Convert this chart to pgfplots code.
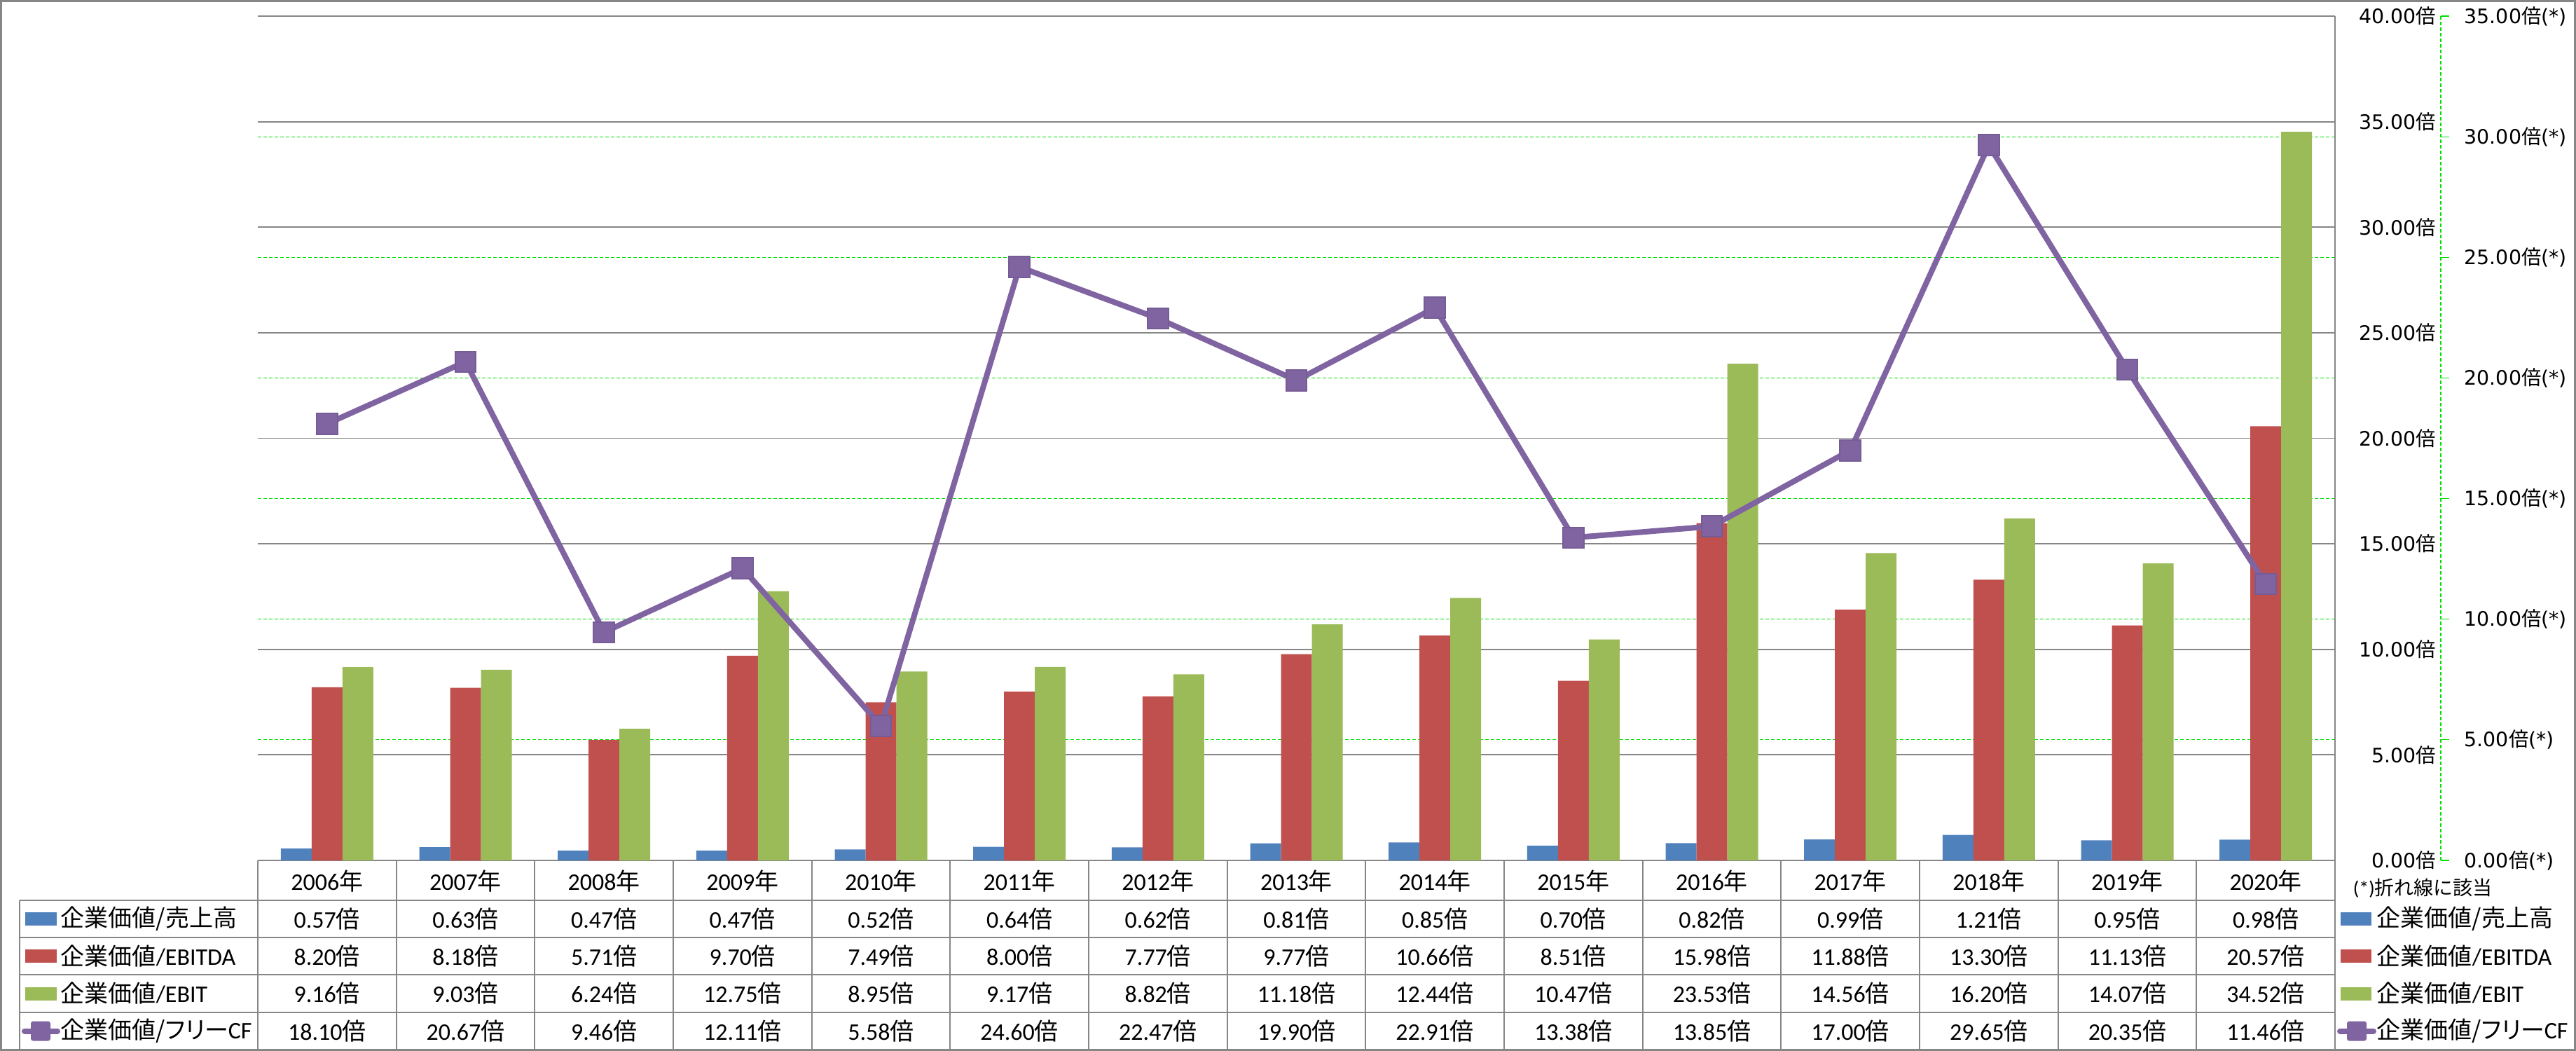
\documentclass[border=0pt]{standalone}
\usepackage{fontspec}
\usepackage{pgfplots}
\usepackage{pgfplotstable}
\pgfplotsset{compat=1.18}
\setmainfont{Carlito}
\newfontfamily\cjk{Noto Sans CJK JP}
\newfontfamily\cjkp{Noto Sans CJK JP}[RawFeature=+palt]
\newfontfamily\tickfont{DejaVu Sans}
\definecolor{cBlue}{HTML}{4F81BD}
\definecolor{cRed}{HTML}{C0504D}
\definecolor{cGreen}{HTML}{9BBB59}
\definecolor{cPurple}{HTML}{8064A2}
\definecolor{cGrid}{HTML}{868686}
\definecolor{cDash}{HTML}{00E000}
\newcommand\bai{{\cjk 倍}}
\newcommand\tl[1]{{\tickfont #1}\bai}
\newcommand\tls[1]{{\tickfont #1}\bai{\tickfont (*)}}

\pgfplotstableread{
x s ebitda ebit fcf
0 0.57 8.20 9.16 18.10
1 0.63 8.18 9.03 20.67
2 0.47 5.71 6.24 9.46
3 0.47 9.70 12.75 12.11
4 0.52 7.49 8.95 5.58
5 0.64 8.00 9.17 24.60
6 0.62 7.77 8.82 22.47
7 0.81 9.77 11.18 19.90
8 0.85 10.66 12.44 22.91
9 0.70 8.51 10.47 13.38
10 0.82 15.98 23.53 13.85
11 0.99 11.88 14.56 17.00
12 1.21 13.30 16.20 29.65
13 0.95 11.13 14.07 20.35
14 0.98 20.57 34.52 11.46
}\data

\begin{document}
\begin{tikzpicture}
\begin{axis}[
  at={(92pt,-307pt)}, anchor=south west,
  scale only axis, width=741.25pt, height=301.25pt,
  xmin=-0.5, xmax=14.5, ymin=0, ymax=40,
  xtick=\empty, ytick={0,5,...,40},
  yticklabels={\tl{0.00},\tl{5.00},\tl{10.00},\tl{15.00},\tl{20.00},\tl{25.00},\tl{30.00},\tl{35.00},\tl{40.00}},
  yticklabel pos=right,
  y tick label style={anchor=east, inner sep=0pt, xshift=36.25pt, font=\fontsize{7.1}{8}\selectfont},
  axis line style={draw=none},
  major tick length=0pt,
  ymajorgrids, major grid style={cGrid, line width=0.45pt},
  extra y ticks={5.7142857,11.428571,17.142857,22.857143,28.571429,34.285714},
  extra y tick labels={},
  extra y tick style={grid=major, major grid style={cDash, line width=0.3pt, dash pattern=on 1.25pt off 0.75pt}},
  ybar=0pt, bar width=11pt,
  clip=false,
]
\addplot[fill=cBlue, draw=none] table[x=x,y=s]{\data};
\addplot[fill=cRed, draw=none] table[x=x,y=ebitda]{\data};
\addplot[fill=cGreen, draw=none] table[x=x,y=ebit]{\data};
\end{axis}
\begin{axis}[
  at={(92pt,-307pt)}, anchor=south west,
  scale only axis, width=741.25pt, height=301.25pt,
  xmin=-0.5, xmax=14.5, ymin=0, ymax=35,
  xtick=\empty, ytick={0,5,...,35},
  yticklabels={\tls{0.00},\tls{5.00},\tls{10.00},\tls{15.00},\tls{20.00},\tls{25.00},\tls{30.00},\tls{35.00}},
  yticklabel pos=right,
  y tick label style={anchor=west, inner sep=0pt, xshift=46pt, font=\fontsize{7.1}{8}\selectfont},
  axis line style={draw=none},
  major tick length=0pt,
  clip=false,
]
\addplot[cPurple, line width=2pt, mark=square*, mark size=3.7pt,
  mark options={fill=cPurple, draw=cPurple!92!black, line width=0.5pt, rounded corners=0.8pt}]
  table[x=x,y=fcf]{\data};
\end{axis}

\begin{scope}[x=0.25pt, y=-0.25pt]
  % outer frame
  \draw[cGrid, line width=0.75pt] (1.5,1.5) rectangle (3675.5,1498.5);
  % right border of plot/table
  \draw[cGrid, line width=0.5pt] (3333,23) -- (3333,1498);
  % secondary axis line and ticks
  \draw[cDash, line width=0.3pt, dash pattern=on 1.25pt off 0.75pt] (3484,23) -- (3484,1228);
  \foreach \k in {0,...,7} {
    \draw[cDash, line width=0.3pt] (3484,1228-\k*172.143) -- ++(12,0);
  }
  % table lines
  \foreach \yy in {1285,1338,1391,1445,1498} {
    \draw[cGrid, line width=0.5pt] (28,\yy) -- (3333,\yy);
  }
  \draw[cGrid, line width=0.5pt] (28,1285) -- (28,1498);
  \foreach \k in {0,...,14} {
    \draw[cGrid, line width=0.5pt] (368+\k*197.667,1228) -- (368+\k*197.667,1498);
  }
  % years
  \foreach \i/\yr in {0/2006,1/2007,2/2008,3/2009,4/2010,5/2011,6/2012,7/2013,8/2014,9/2015,10/2016,11/2017,12/2018,13/2019,14/2020} {
    \node[font=\fontsize{8.5}{10}\selectfont, inner sep=0pt] at (368+197.667*\i+98.83,1257) {\yr{\cjk 年}};
  }
  % rows
  \foreach \i/\v in {0/0.57,1/0.63,2/0.47,3/0.47,4/0.52,5/0.64,6/0.62,7/0.81,8/0.85,9/0.70,10/0.82,11/0.99,12/1.21,13/0.95,14/0.98} {
    \node[font=\fontsize{8.5}{10}\selectfont, inner sep=0pt] at (368+197.667*\i+98.83,1311.5) {\v\bai};
  }
  \foreach \i/\v in {0/8.20,1/8.18,2/5.71,3/9.70,4/7.49,5/8.00,6/7.77,7/9.77,8/10.66,9/8.51,10/15.98,11/11.88,12/13.30,13/11.13,14/20.57} {
    \node[font=\fontsize{8.5}{10}\selectfont, inner sep=0pt] at (368+197.667*\i+98.83,1364.5) {\v\bai};
  }
  \foreach \i/\v in {0/9.16,1/9.03,2/6.24,3/12.75,4/8.95,5/9.17,6/8.82,7/11.18,8/12.44,9/10.47,10/23.53,11/14.56,12/16.20,13/14.07,14/34.52} {
    \node[font=\fontsize{8.5}{10}\selectfont, inner sep=0pt] at (368+197.667*\i+98.83,1418) {\v\bai};
  }
  \foreach \i/\v in {0/18.10,1/20.67,2/9.46,3/12.11,4/5.58,5/24.60,6/22.47,7/19.90,8/22.91,9/13.38,10/13.85,11/17.00,12/29.65,13/20.35,14/11.46} {
    \node[font=\fontsize{8.5}{10}\selectfont, inner sep=0pt] at (368+197.667*\i+98.83,1471.5) {\v\bai};
  }
  % left legend keys
  \fill[cBlue] (36,1302) rectangle (81,1321);
  \fill[cRed] (36,1355) rectangle (81,1374);
  \fill[cGreen] (36,1408.5) rectangle (81,1427.5);
  \draw[cPurple, line width=2pt, line cap=round] (35,1471.5) -- (82,1471.5);
  \fill[cPurple, rounded corners=0.8pt] (44,1457.5) rectangle (72,1485.5);
  \node[anchor=west, font=\fontsize{8.5}{10}\selectfont, inner sep=0pt] at (86,1311.5) {{\cjk 企業価値/売上高}};
  \node[anchor=west, font=\fontsize{8.5}{10}\selectfont, inner sep=0pt] at (86,1364.5) {{\cjk 企業価値}/EBITDA};
  \node[anchor=west, font=\fontsize{8.5}{10}\selectfont, inner sep=0pt] at (86,1418) {{\cjk 企業価値}/EBIT};
  \node[anchor=west, font=\fontsize{8.5}{10}\selectfont, inner sep=0pt] at (86,1471.5) {{\cjk 企業価値}{\cjkp /フリー}CF};
  % right legend
  \node[anchor=west, font=\fontsize{7}{8}\selectfont, inner sep=0pt] at (3358,1268) {(*){\cjk 折れ線に該当}};
  \fill[cBlue] (3341,1302) rectangle (3385,1321);
  \fill[cRed] (3341,1355) rectangle (3385,1374);
  \fill[cGreen] (3341,1408.5) rectangle (3385,1427.5);
  \draw[cPurple, line width=2pt, line cap=round] (3340,1471.5) -- (3388,1471.5);
  \fill[cPurple, rounded corners=0.8pt] (3350,1457.5) rectangle (3378,1485.5);
  \node[anchor=west, font=\fontsize{8.5}{10}\selectfont, inner sep=0pt] at (3392,1311.5) {{\cjk 企業価値/売上高}};
  \node[anchor=west, font=\fontsize{8.5}{10}\selectfont, inner sep=0pt] at (3392,1364.5) {{\cjk 企業価値}/EBITDA};
  \node[anchor=west, font=\fontsize{8.5}{10}\selectfont, inner sep=0pt] at (3392,1418) {{\cjk 企業価値}/EBIT};
  \node[anchor=west, font=\fontsize{8.5}{10}\selectfont, inner sep=0pt] at (3392,1471.5) {{\cjk 企業価値}{\cjkp /フリー}CF};
\end{scope}
\pgfresetboundingbox
\useasboundingbox (0,0) rectangle (919.25pt,-375pt);
\end{tikzpicture}
\end{document}
